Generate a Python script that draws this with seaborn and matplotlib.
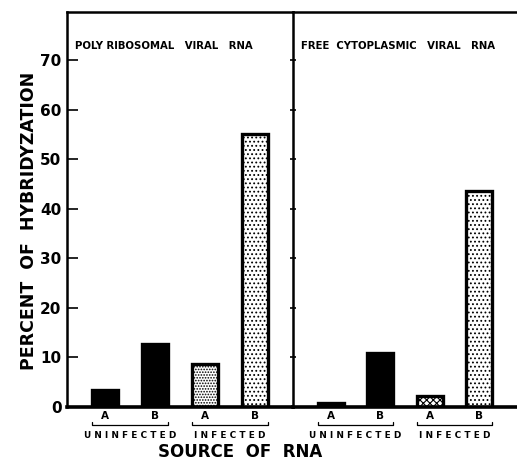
import pandas as pd
import matplotlib.pyplot as plt
import matplotlib.transforms as mtransforms
import seaborn as sns

sns.set_style("white")
plt.rcParams["font.family"] = ["DejaVu Sans"]
plt.rcParams["text.color"] = "black"
plt.rcParams["axes.labelcolor"] = "black"
plt.rcParams["xtick.color"] = "black"
plt.rcParams["ytick.color"] = "black"
plt.rcParams["hatch.linewidth"] = 0.8

# data
panel_titles = ["POLY RIBOSOMAL   VIRAL   RNA", "FREE  CYTOPLASMIC   VIRAL   RNA"]
groups = ["UNINFECTED", "UNINFECTED", "INFECTED", "INFECTED"]
cells = ["A", "B", "A", "B"]
poly_vals = [3.4, 12.7, 8.6, 55.0]
free_vals = [0.8, 10.8, 2.2, 43.5]
yticks = [0, 10, 20, 30, 40, 50, 60, 70]

keys = [g + " " + c for g, c in zip(groups, cells)]
df = pd.concat([
    pd.DataFrame({"panel": panel_titles[0], "key": keys, "value": poly_vals}),
    pd.DataFrame({"panel": panel_titles[1], "key": keys, "value": free_vals}),
])

fills = ["black", "black", "white", "white"]
hatches = {0: [None, None, "......", "...."], 1: [None, None, "xxxxx", "...."]}

fig = plt.figure(figsize=(5.17, 4.62), dpi=100)
ax1 = fig.add_axes([0.1296, 0.119, 0.4372, 0.855])
ax2 = fig.add_axes([0.5668, 0.119, 0.4332, 0.855], sharey=ax1)

for i, ax in enumerate([ax1, ax2]):
    sub = df[df["panel"] == panel_titles[i]]
    sns.barplot(data=sub, x="key", y="value", hue="key", order=keys,
                palette=dict(zip(keys, fills)), legend=False, width=0.52,
                edgecolor="black", linewidth=2.4, ax=ax)
    for p, h in zip(ax.patches, hatches[i]):
        if h:
            p.set_hatch(h)
    ax.set_xlim(-0.76, 3.76)
    ax.set_ylim(0, 79.7)
    ax.set_xlabel("")
    ax.set_ylabel("")
    ax.set_xticks(range(4))
    ax.set_xticklabels(cells, fontsize=7.5, fontweight="bold")
    ax.tick_params(axis="x", length=0, pad=3)
    for s in ax.spines.values():
        s.set_color("black")
        s.set_linewidth(1.8)
    ax.spines["bottom"].set_linewidth(2.6)
    ax.spines["right"].set_visible(False)
    ax.text(0.035, 0.915, panel_titles[i], transform=ax.transAxes,
            fontsize=7.3, fontweight="bold", ha="left", va="center")

    # brackets and group names under the bars
    tr = mtransforms.blended_transform_factory(ax.transData, ax.transAxes)
    for lo, hi, name in [(0, 1, "U N I N F E C T E D"), (2, 3, "I N F E C T E D")]:
        x0, x1 = lo - 0.26, hi + 0.26
        ax.plot([x0, x0, x1, x1], [-0.037, -0.045, -0.045, -0.037],
                color="black", lw=0.9, transform=tr, clip_on=False)
        ax.text((lo + hi) / 2, -0.072, name, transform=tr, ha="center",
                va="center", fontsize=6.4, fontweight="bold")

ax1.set_yticks(yticks)
ax1.set_yticklabels([str(v) for v in yticks], fontsize=11, fontweight="bold")
ax1.tick_params(axis="y", direction="in", length=8, width=1.2, pad=4, left=True)
ax1.set_ylabel("PERCENT  OF  HYBRIDYZATION", fontsize=12.5, fontweight="bold")
ax1.yaxis.set_label_coords(-0.13, 0.47)

ax2.tick_params(axis="y", direction="inout", length=5, width=1.2,
                labelleft=False, left=True)

fig.text(0.465, 0.002, "SOURCE  OF  RNA", fontsize=12, fontweight="bold",
         ha="center", va="bottom")

fig.savefig("out.png", dpi=100)
